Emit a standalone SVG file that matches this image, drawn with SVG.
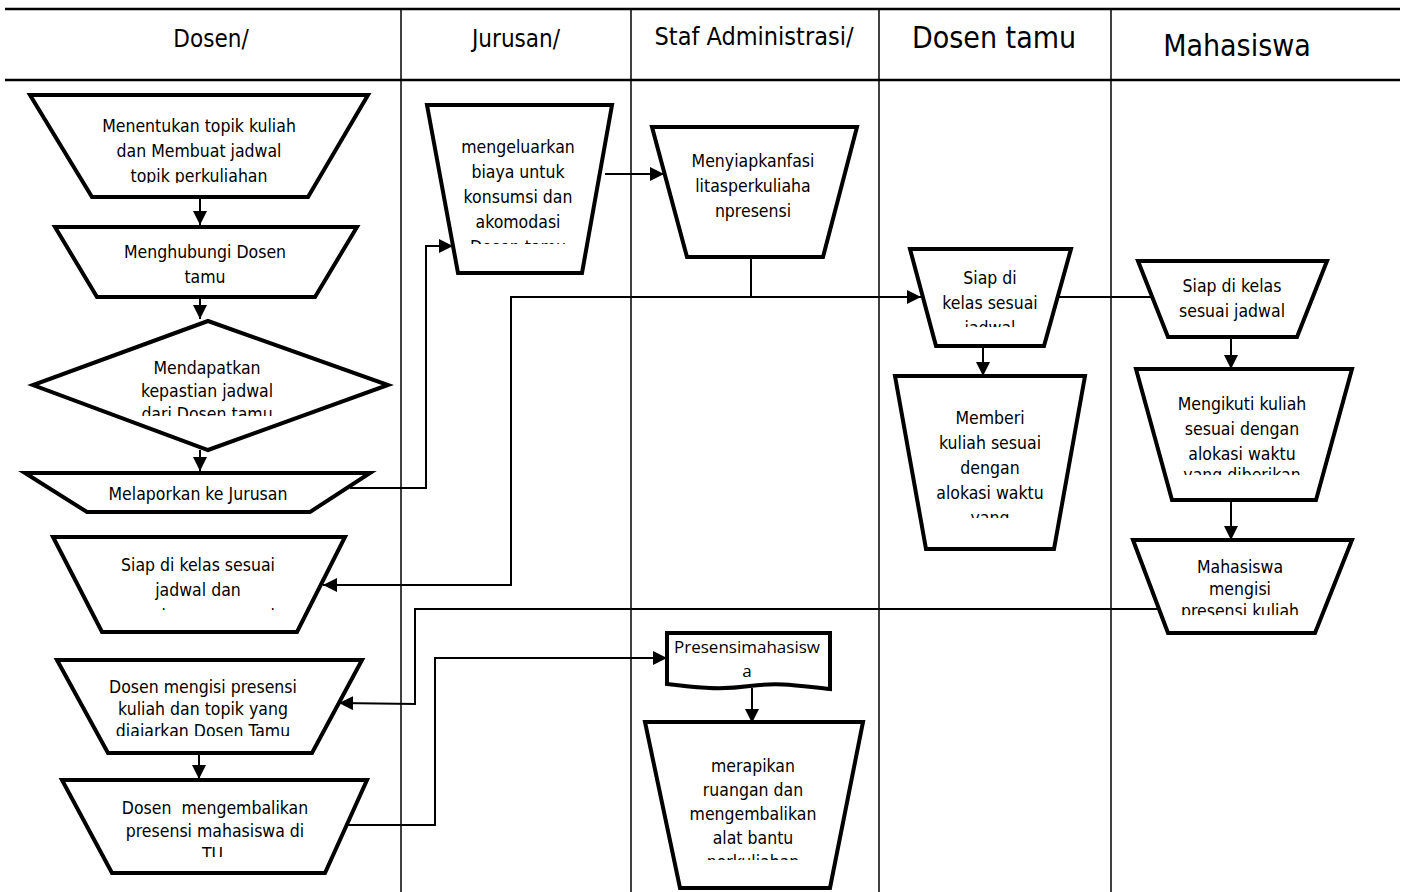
<svg xmlns="http://www.w3.org/2000/svg" width="1403" height="892" viewBox="0 0 1403 892">
<style>
.bg{fill:#fff}
.grid{stroke:#000;stroke-width:1.5;fill:none}
.hline{stroke:#000;stroke-width:2.5;fill:none}
.shape{fill:#fff;stroke:#000;stroke-width:4;stroke-linejoin:miter}
.conn{fill:none;stroke:#000;stroke-width:2}
.hd{font-family:"DejaVu Sans Condensed","DejaVu Sans",sans-serif;font-stretch:condensed;fill:#000;text-anchor:middle}
.t{font-family:"DejaVu Sans Condensed","DejaVu Sans",sans-serif;font-stretch:condensed;font-size:17.5px;fill:#000;text-anchor:middle}
.doc{font-family:"Open Sans","Noto Sans",sans-serif;font-size:17px;fill:#000;text-anchor:middle}
</style>
<defs>
<marker id="ah" markerUnits="userSpaceOnUse" markerWidth="16" markerHeight="16" refX="14" refY="7" orient="auto">
<path d="M0,0 L14,7 L0,14 Z" fill="#000"/>
</marker>
<clipPath id="c1"><rect x="0" y="0" width="1403" height="183"/></clipPath>
<clipPath id="c3"><rect x="0" y="0" width="1403" height="416"/></clipPath>
<clipPath id="c5"><rect x="0" y="0" width="1403" height="610"/></clipPath>
<clipPath id="c6"><rect x="0" y="0" width="1403" height="244"/></clipPath>
<clipPath id="c8"><rect x="0" y="0" width="1403" height="327"/></clipPath>
<clipPath id="c9"><rect x="0" y="0" width="1403" height="518"/></clipPath>
<clipPath id="c11"><rect x="0" y="0" width="1403" height="475"/></clipPath>
<clipPath id="c12"><rect x="0" y="0" width="1403" height="615"/></clipPath>
<clipPath id="c13"><rect x="0" y="0" width="1403" height="736"/></clipPath>
<clipPath id="c14"><rect x="0" y="0" width="1403" height="857"/></clipPath>
<clipPath id="c16"><rect x="0" y="0" width="1403" height="860"/></clipPath>
</defs>
<rect class="bg" x="0" y="0" width="1403" height="892"/>

<g id="swimlanes">
<line class="hline" x1="5" y1="9" x2="1400" y2="9"/>
<line class="hline" x1="5" y1="80" x2="1400" y2="80"/>
<line class="grid" x1="401" y1="9" x2="401" y2="892"/>
<line class="grid" x1="631" y1="9" x2="631" y2="892"/>
<line class="grid" x1="879" y1="9" x2="879" y2="892"/>
<line class="grid" x1="1111" y1="9" x2="1111" y2="892"/>
<text class="hd" x="211" y="47" font-size="24">Dosen/</text>
<text class="hd" x="516" y="47" font-size="24">Jurusan/</text>
<text class="hd" x="754" y="45" font-size="25">Staf Administrasi/</text>
<text class="hd" x="994" y="48" font-size="30">Dosen tamu</text>
<text class="hd" x="1237" y="56" font-size="30">Mahasiswa</text>
</g>

<g id="connectors">
<line class="conn" x1="200" y1="197" x2="200" y2="225" marker-end="url(#ah)"/>
<line class="conn" x1="200" y1="297" x2="200" y2="319" marker-end="url(#ah)"/>
<line class="conn" x1="200" y1="450" x2="200" y2="471" marker-end="url(#ah)"/>
<path class="conn" d="M350,488 H426 V246 H453" marker-end="url(#ah)"/>
<line class="conn" x1="605" y1="174" x2="664" y2="174" marker-end="url(#ah)"/>
<path class="conn" d="M751,257 V297 H921" marker-end="url(#ah)"/>
<path class="conn" d="M751,297 H511 V585 H323" marker-end="url(#ah)"/>
<line class="conn" x1="1058" y1="297" x2="1152" y2="297"/>
<line class="conn" x1="983" y1="346" x2="983" y2="376" marker-end="url(#ah)"/>
<line class="conn" x1="1231" y1="337" x2="1231" y2="369" marker-end="url(#ah)"/>
<line class="conn" x1="1231" y1="500" x2="1231" y2="540" marker-end="url(#ah)"/>
<path class="conn" d="M1159,609 H415 V704 L339,703" marker-end="url(#ah)"/>
<line class="conn" x1="199" y1="753" x2="199" y2="779" marker-end="url(#ah)"/>
<path class="conn" d="M347,825 H435 V658 H667" marker-end="url(#ah)"/>
<line class="conn" x1="752" y1="688" x2="752" y2="723" marker-end="url(#ah)"/>
</g>

<g id="n1">
<polygon class="shape" points="30,95 368,95 308,197 92,197"/>
<g clip-path="url(#c1)">
<text class="t" x="199" y="132">Menentukan topik kuliah</text>
<text class="t" x="199" y="157">dan Membuat jadwal</text>
<text class="t" x="199" y="182">topik perkuliahan</text>
</g>
</g>

<g id="n2">
<polygon class="shape" points="55,227 357,227 315,297 97,297"/>
<text class="t" x="205" y="258">Menghubungi Dosen</text>
<text class="t" x="205" y="283">tamu</text>
</g>

<g id="n3">
<polygon class="shape" points="208,321 388,385 208,450 33,385"/>
<g clip-path="url(#c3)">
<text class="t" x="207" y="374">Mendapatkan</text>
<text class="t" x="207" y="397">kepastian jadwal</text>
<text class="t" x="207" y="420">dari Dosen tamu</text>
</g>
</g>

<g id="n4">
<polygon class="shape" points="25,473 370,473 310,512 87,512"/>
<text class="t" x="198" y="500">Melaporkan ke Jurusan</text>
</g>

<g id="n5">
<polygon class="shape" points="53,537 345,537 297,632 102,632"/>
<g clip-path="url(#c5)">
<text class="t" x="198" y="571">Siap di kelas sesuai</text>
<text class="t" x="198" y="596">jadwal dan</text>
<text class="t" x="198" y="622">membawa presensi</text>
</g>
</g>

<g id="n6">
<polygon class="shape" points="427,105 612,105 582,273 458,273"/>
<g clip-path="url(#c6)">
<text class="t" x="518" y="153">mengeluarkan</text>
<text class="t" x="518" y="178">biaya untuk</text>
<text class="t" x="518" y="203">konsumsi dan</text>
<text class="t" x="518" y="228">akomodasi</text>
<text class="t" x="518" y="253">Dosen tamu</text>
</g>
</g>

<g id="n7">
<polygon class="shape" points="652,127 857,127 823,257 687,257"/>
<text class="t" x="753" y="167">Menyiapkanfasi</text>
<text class="t" x="753" y="192">litasperkuliaha</text>
<text class="t" x="753" y="217">npresensi</text>
</g>

<g id="n8">
<polygon class="shape" points="910,249 1071,249 1044,346 936,346"/>
<g clip-path="url(#c8)">
<text class="t" x="990" y="284">Siap di</text>
<text class="t" x="990" y="309">kelas sesuai</text>
<text class="t" x="990" y="334">jadwal</text>
</g>
</g>

<g id="n9">
<polygon class="shape" points="895,376 1085,376 1054,549 926,549"/>
<g clip-path="url(#c9)">
<text class="t" x="990" y="424">Memberi</text>
<text class="t" x="990" y="449">kuliah sesuai</text>
<text class="t" x="990" y="474">dengan</text>
<text class="t" x="990" y="499">alokasi waktu</text>
<text class="t" x="990" y="524">yang</text>
</g>
</g>

<g id="n10">
<polygon class="shape" points="1138,261 1327,261 1297,337 1168,337"/>
<text class="t" x="1232" y="292">Siap di kelas</text>
<text class="t" x="1232" y="317">sesuai jadwal</text>
</g>

<g id="n11">
<polygon class="shape" points="1136,369 1352,369 1316,500 1172,500"/>
<g clip-path="url(#c11)">
<text class="t" x="1242" y="410">Mengikuti kuliah</text>
<text class="t" x="1242" y="435">sesuai dengan</text>
<text class="t" x="1242" y="460">alokasi waktu</text>
<text class="t" x="1242" y="481">yang diberikan</text>
</g>
</g>

<g id="n12">
<polygon class="shape" points="1133,540 1352,540 1315,633 1168,633"/>
<g clip-path="url(#c12)">
<text class="t" x="1240" y="573">Mahasiswa</text>
<text class="t" x="1240" y="595">mengisi</text>
<text class="t" x="1240" y="617">presensi kuliah</text>
</g>
</g>

<g id="n13">
<polygon class="shape" points="57,660 362,660 312,753 108,753"/>
<g clip-path="url(#c13)">
<text class="t" x="203" y="693">Dosen mengisi presensi</text>
<text class="t" x="203" y="715">kuliah dan topik yang</text>
<text class="t" x="203" y="737">diajarkan Dosen Tamu</text>
</g>
</g>

<g id="n14">
<polygon class="shape" points="62,780 367,780 325,873 112,873"/>
<g clip-path="url(#c14)">
<text class="t" x="215" y="814" xml:space="preserve" style="white-space:pre">Dosen  mengembalikan</text>
<text class="t" x="215" y="837">presensi mahasiswa di</text>
<text class="t" x="215" y="860">TU.</text>
</g>
</g>

<g id="n15">
<path class="shape" d="M667,633 H830 V689 C800,686 780,682 750,686 C720,690 700,688 667,684 Z"/>
<text class="doc" x="747" y="653">Presensimahasisw</text>
<text class="doc" x="747" y="677">a</text>
</g>

<g id="n16">
<polygon class="shape" points="645,722 863,722 830,888 680,888"/>
<g clip-path="url(#c16)">
<text class="t" x="753" y="772">merapikan</text>
<text class="t" x="753" y="796">ruangan dan</text>
<text class="t" x="753" y="820">mengembalikan</text>
<text class="t" x="753" y="844">alat bantu</text>
<text class="t" x="753" y="868">perkuliahan</text>
</g>
</g>
</svg>
